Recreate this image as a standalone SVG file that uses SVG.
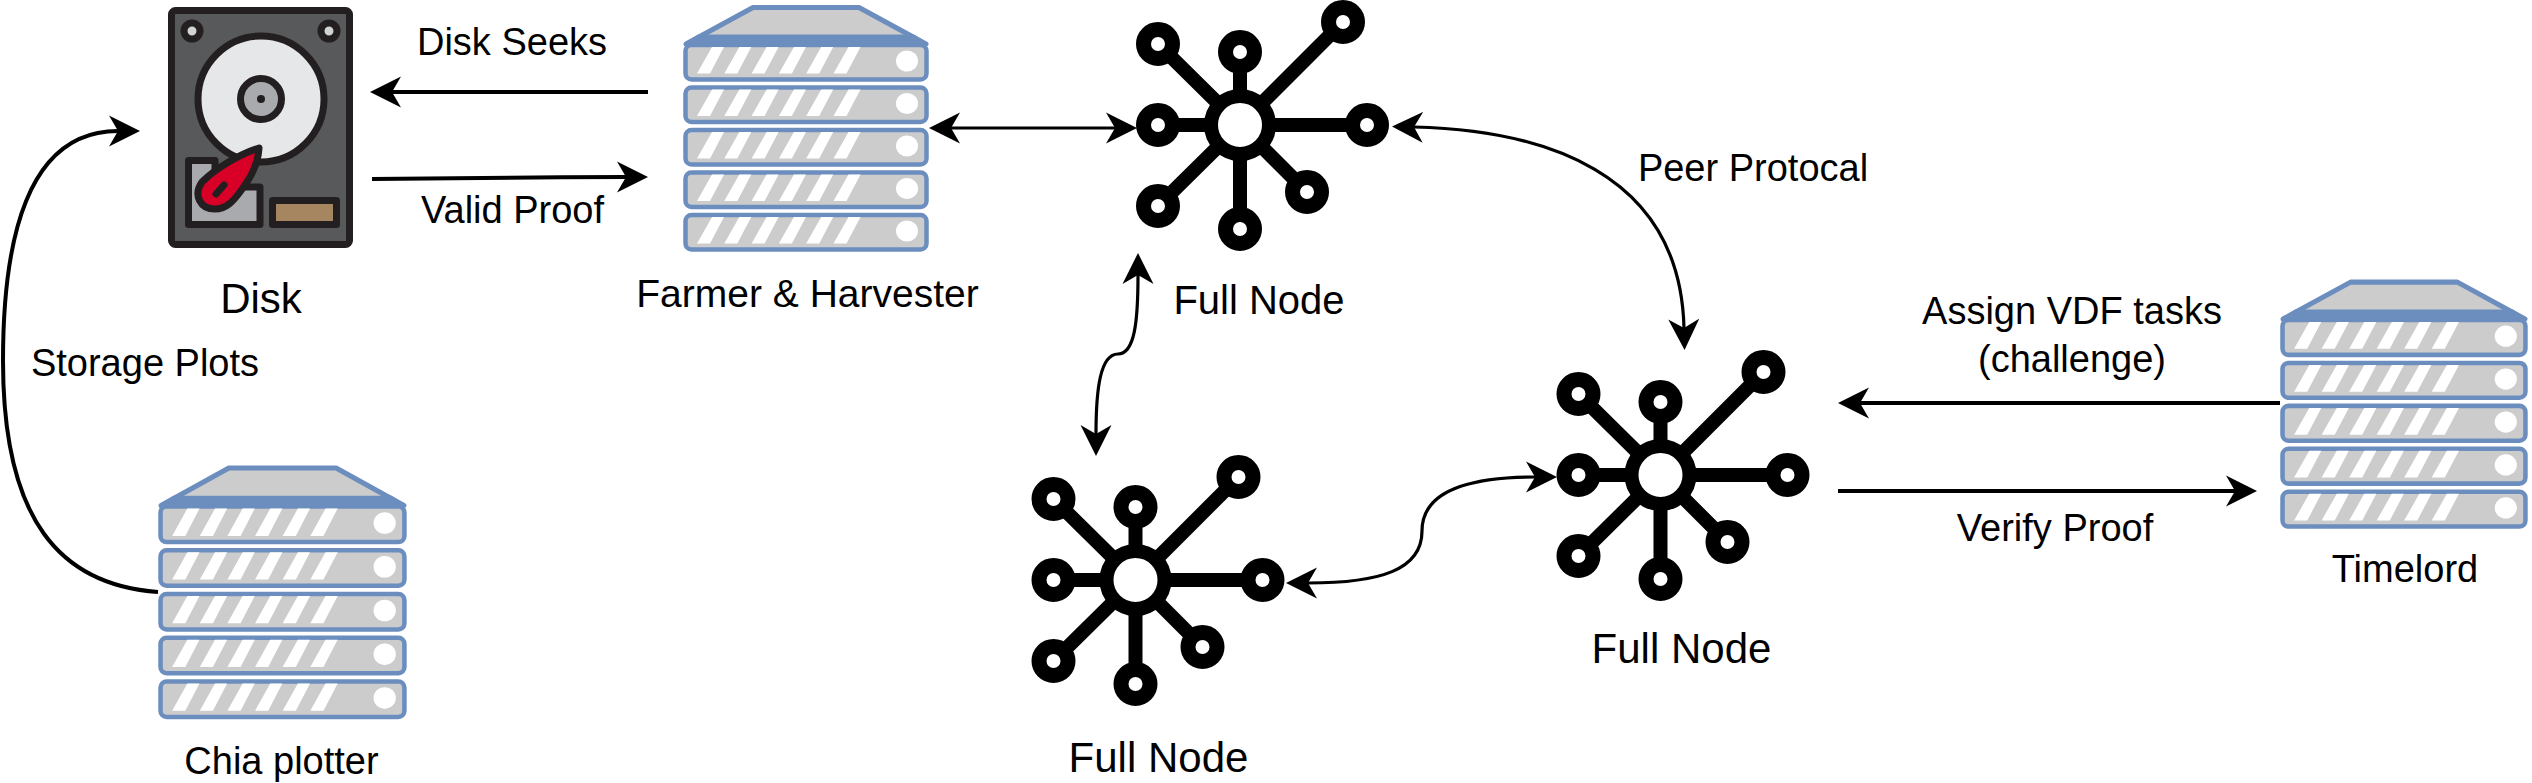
<svg xmlns="http://www.w3.org/2000/svg" width="2532" height="783" viewBox="0 0 2532 783">
<style>
text{font-family:"Liberation Sans",Arial,sans-serif;font-size:38px;fill:#000;text-anchor:middle}
.m{font-size:39px}
.big{font-size:40px}
.lg{font-size:42px}
.c{fill:none;stroke:#000;stroke-width:4;marker-end:url(#a)}
.b{marker-start:url(#a)}
.t{stroke-width:3.2}
.row{fill:#ccc;stroke:#6c8ebf;stroke-width:4.5}
.sl{fill:#fff}
.sp{stroke:#000;stroke-width:14;fill:none}
.rg{fill:#fff;stroke:#000;stroke-width:15}
.d{stroke:#231f20;stroke-width:7;stroke-linejoin:round}
</style>
<defs>
<marker id="a" markerUnits="userSpaceOnUse" markerWidth="32" markerHeight="32" refX="9" refY="16" orient="auto-start-reverse"><path d="M31,16 L0,0.5 L9,16 L0,31.5Z" fill="#000"/></marker>
<g id="r">
<rect class="row" x="2.5" y="2" width="241" height="34.500" rx="6"/>
<path class="sl" d="M14,30.500L29,4H41L27,30.500ZM41.3,30.500L56.3,4H68.3L54.3,30.500ZM68.6,30.500L83.6,4H95.6L81.6,30.500ZM95.9,30.500L110.9,4H122.900L108.9,30.500ZM123.200,30.500L138.200,4H150.200L136.200,30.500ZM150.500,30.500L165.500,4H177.500L163.500,30.500Z"/>
<ellipse class="sl" cx="224" cy="18" rx="11" ry="10.500"/>
</g>
<g id="server">
<path class="row" d="M70,-35.500H176L243,1H3Z" stroke-linejoin="round" style="stroke-width:5"/>
<path d="M1,1L15,-8.500H231L245,1Z" fill="#6c8ebf"/>
<use href="#r"/>
<use href="#r" y="42.500"/>
<use href="#r" y="85"/>
<use href="#r" y="127.500"/>
<use href="#r" y="170"/>
</g>
<g id="hub">
<path class="sp" d="M0,0H-82M0,0H127M0,0L-82,-81M0,0V-73M0,0L103,-103M0,0L-82,81M0,0L67,67M0,0V104"/>
<circle cx="0" cy="0" r="29" class="rg" style="stroke-width:14"/>
<circle class="rg" cx="-82" cy="0" r="14.500"/>
<circle class="rg" cx="127" cy="0" r="14.500"/>
<circle class="rg" cx="-82" cy="-81" r="14.500"/>
<circle class="rg" cx="0" cy="-73" r="14.500"/>
<circle class="rg" cx="103" cy="-103" r="14.500"/>
<circle class="rg" cx="-82" cy="81" r="14.500"/>
<circle class="rg" cx="67" cy="67" r="14.500"/>
<circle class="rg" cx="0" cy="104" r="14.500"/>
</g>
</defs>
<rect width="2532" height="783" fill="#fff"/>
<g id="connectors">
<path class="c" d="M648,92H392"/>
<path class="c" d="M372,179C450,179 540,177 626,177"/>
<path class="c b t" d="M951,128H1115"/>
<path class="c b t" d="M1138,275C1138,320 1135,354 1118,354C1100,354 1096,390 1096,434"/>
<path class="c b t" d="M1414,127C1540,130 1680,170 1684,328"/>
<path class="c b t" d="M1308,583C1380,583 1422,570 1422,531C1422,490 1470,477 1535,477"/>
<path class="c" d="M2280,403H1860"/>
<path class="c" d="M1838,491H2235"/>
<path class="c" d="M158,592C60,585 3,520 3,361C3,210 40,131 118,131"/>
</g>
<g id="node-disk">
<rect class="d" x="171.500" y="10.500" width="178" height="234" rx="4" fill="#58595b"/>
<circle class="d" cx="192" cy="31" r="8" fill="#d1d3d4"/>
<circle class="d" cx="329" cy="31" r="8" fill="#d1d3d4"/>
<circle class="d" cx="261" cy="99" r="63" fill="#e6e7e9"/>
<circle class="d" cx="261" cy="99" r="20.500" fill="#a9aaae"/>
<circle cx="261" cy="99" r="4" fill="#231f20"/>
<path class="d" d="M188.500,160.500H215V187H260V224.500H188.500Z" fill="#a9aaae"/>
<rect class="d" x="272.500" y="200.500" width="64" height="24" fill="#a68660"/>
<path class="d" d="M259,148C240,154 216,168 202,182C193,195 200,209 215,209C227,209 234,200 240,192C249,180 258,166 259,148Z" fill="#d80027"/>
<path d="M216,194L224,185" stroke="#231f20" stroke-width="7" stroke-linecap="round" fill="none"/>
<text class="lg" x="261" y="313">Disk</text>
</g>
<g id="node-farmer">
<use href="#server" transform="translate(683,43)"/>
<text class="m" x="807.500" y="307">Farmer &amp; Harvester</text>
</g>
<g id="node-plotter">
<use href="#server" transform="translate(158,504.500) scale(1.012,1.029)"/>
<text x="281.500" y="774">Chia plotter</text>
</g>
<g id="node-timelord">
<use href="#server" transform="translate(2280,318) scale(1.008,1.01)"/>
<text x="2405" y="582">Timelord</text>
</g>
<g id="node-full-1">
<use href="#hub" transform="translate(1240,125)"/>
<text class="big" x="1259" y="314">Full Node</text>
</g>
<g id="node-full-2">
<use href="#hub" transform="translate(1135.500,580)"/>
<text class="lg" x="1158.500" y="772">Full Node</text>
</g>
<g id="node-full-3">
<use href="#hub" transform="translate(1660.500,475)"/>
<text class="lg" x="1681.500" y="663">Full Node</text>
</g>
<g id="labels">
<text x="512" y="55">Disk Seeks</text>
<text x="512.500" y="223">Valid Proof</text>
<text x="145" y="376">Storage Plots</text>
<text x="1753" y="181">Peer Protocal</text>
<text x="2072" y="324">Assign VDF tasks</text>
<text x="2072" y="372">(challenge)</text>
<text x="2055" y="541">Verify Proof</text>
</g>
</svg>
